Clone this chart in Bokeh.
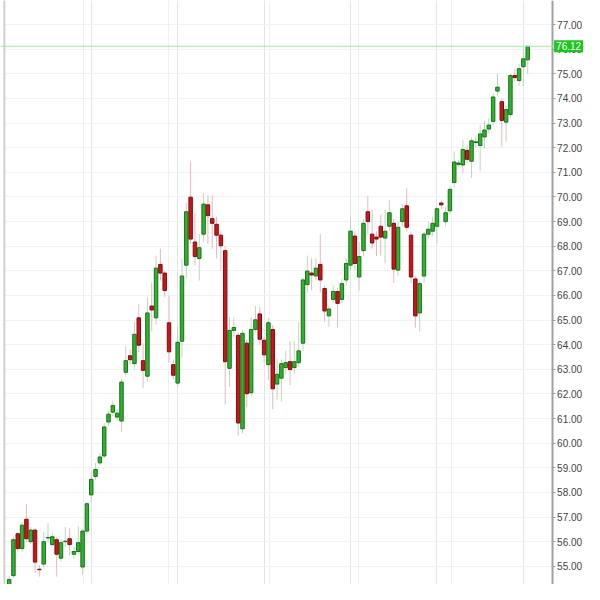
from bokeh.plotting import figure
from bokeh.models import (Span, Label, FixedTicker, SingleIntervalTicker, Range1d,
                          NumeralTickFormatter, ColumnDataSource, Grid, LinearAxis,
                          BoxAnnotation)
from bokeh.embed import file_html
from bokeh.resources import INLINE

opens = [54.10, 54.62, 56.32, 55.72, 56.91, 56.00, 56.47, 54.88, 55.09, 56.15,
         55.88, 56.08, 55.33, 56.00, 56.12, 55.49, 55.60, 54.97, 56.43, 57.90,
         58.65, 59.20, 59.48, 60.86, 61.26, 61.06, 60.90, 62.88, 63.55, 63.23,
         65.09, 63.35, 62.72, 65.57, 65.09, 67.26, 66.91, 64.89, 63.19, 62.44,
         64.14, 67.23, 69.99, 68.17, 67.50, 68.49, 69.68, 69.12, 68.89, 68.45,
         67.82, 63.04, 64.58, 64.38, 60.585, 64.06, 62.05, 64.62, 65.25, 64.18,
         63.19, 64.62, 62.40, 62.64, 63.07, 63.31, 63.07, 63.27, 64.06, 66.44,
         66.91, 66.79, 67.26, 66.28, 65.17, 65.84, 66.16, 65.84, 66.63, 67.23,
         68.41, 66.75, 67.82, 69.40, 68.49, 68.37, 68.81, 68.33, 68.81, 68.93,
         67.03, 69.00, 69.64, 68.45, 66.67, 65.29, 66.79, 68.49, 68.61, 68.81,
         69.755, 69.00, 69.44, 70.585, 71.32, 71.30, 71.89, 71.45, 72.21, 72.09,
         72.44, 72.76, 73.07, 74.30, 73.87, 73.04, 73.35, 74.93, 74.73, 75.29,
         75.57]
highs = [54.60, 56.20, 56.40, 56.80, 57.54, 56.60, 56.55, 55.05, 56.40, 56.75,
         56.35, 56.20, 56.10, 56.59, 56.55, 55.80, 56.63, 56.50, 57.60, 58.80,
         59.20, 59.60, 60.80, 61.30, 61.70, 61.40, 62.60, 63.94, 63.80, 64.93,
         65.64, 64.06, 65.92, 66.51, 67.62, 67.90, 67.00, 66.00, 63.40, 64.73,
         67.50, 69.75, 71.45, 69.36, 68.49, 70.15, 70.07, 70.07, 69.20, 68.60,
         68.00, 65.13, 65.13, 64.50, 64.60, 64.20, 65.13, 65.57, 65.53, 64.30,
         65.09, 64.80, 63.43, 63.40, 63.75, 64.14, 64.14, 64.93, 66.70, 67.62,
         67.50, 67.50, 68.49, 66.40, 65.60, 66.40, 66.30, 66.70, 67.50, 69.20,
         68.60, 68.17, 69.10, 70.03, 69.48, 68.60, 69.28, 69.48, 69.87, 69.10,
         69.00, 69.70, 70.35, 68.60, 66.80, 66.60, 68.60, 69.00, 69.20, 69.60,
         69.85, 69.60, 70.45, 71.85, 71.50, 72.32, 72.10, 72.40, 72.50, 72.92,
         73.10, 73.20, 74.20, 75.01, 74.00, 73.70, 75.00, 75.21, 75.40, 76.08,
         76.12]
lows = [54.00, 54.54, 55.60, 55.60, 55.96, 55.90, 54.73, 54.58, 54.95, 55.96,
        55.80, 54.58, 55.20, 55.80, 55.45, 55.30, 55.50, 54.66, 56.30, 57.60,
        58.50, 59.10, 59.40, 60.70, 61.10, 60.90, 60.47, 62.70, 63.20, 63.00,
        63.70, 62.24, 62.50, 64.54, 64.81, 66.60, 65.92, 63.27, 62.60, 62.30,
        63.47, 66.70, 68.10, 67.23, 66.60, 68.17, 68.10, 67.90, 67.50, 66.99,
        61.57, 62.28, 64.30, 60.31, 60.40, 61.45, 61.90, 64.50, 64.00, 63.27,
        62.56, 61.38, 61.77, 61.69, 62.80, 62.36, 62.80, 63.10, 63.75, 66.12,
        66.20, 66.60, 66.12, 64.93, 64.73, 65.70, 64.69, 65.70, 66.40, 67.00,
        67.03, 66.20, 67.60, 68.49, 67.90, 67.60, 67.62, 67.30, 68.60, 66.51,
        66.80, 68.80, 68.60, 66.50, 64.69, 64.54, 66.51, 68.30, 68.40, 68.10,
        69.50, 68.80, 69.30, 70.39, 71.20, 70.98, 71.40, 70.78, 72.00, 71.06,
        71.97, 72.60, 72.90, 74.10, 72.05, 72.25, 73.20, 74.70, 74.50, 74.50,
        75.00]
closes = [54.46, 56.08, 55.72, 56.67, 56.12, 56.47, 55.17, 54.86, 56.00, 56.17,
          56.20, 55.49, 55.96, 56.02, 55.88, 55.60, 55.96, 56.43, 57.54, 58.53,
          58.93, 59.44, 60.66, 61.18, 61.53, 61.22, 62.48, 63.35, 63.39, 64.42,
          63.98, 62.96, 65.29, 65.41, 67.11, 66.91, 66.20, 63.71, 62.76, 64.10,
          66.79, 69.40, 68.29, 67.58, 67.94, 69.71, 69.24, 68.93, 68.45, 68.02,
          63.31, 64.58, 64.70, 60.82, 64.46, 62.01, 64.62, 65.01, 64.22, 63.59,
          64.89, 62.21, 62.80, 63.23, 63.27, 62.99, 63.31, 63.75, 66.63, 66.99,
          66.83, 67.11, 66.63, 65.37, 65.45, 66.16, 65.68, 66.48, 67.30, 68.61,
          67.30, 67.58, 68.93, 69.00, 68.13, 68.29, 68.37, 68.61, 69.36, 67.07,
          68.77, 69.52, 68.77, 66.75, 65.17, 66.48, 68.49, 68.69, 68.93, 69.52,
          69.68, 69.36, 70.31, 71.42, 71.38, 71.93, 71.53, 72.28, 72.24, 72.56,
          72.72, 72.92, 74.06, 74.46, 73.11, 73.55, 74.93, 74.85, 75.21, 75.61,
          76.12]
month_breaks = [18.15, 37.97, 61.17, 81.89, 103.28]

X_START, X_BORDER, X_AXIS, X_END = -0.995, -0.095, 126.64, 134.14
Y_START, Y_END = 54.26, 77.98

idx = list(range(1, len(opens) + 1))
up = [c >= o for o, c in zip(opens, closes)]

src = ColumnDataSource(dict(
    x=idx,
    top=[max(o, c) for o, c in zip(opens, closes)],
    bottom=[min(o, c) for o, c in zip(opens, closes)],
    high=highs,
    low=lows,
    fill=["#2db32d" if u else "#c9161c" for u in up],
    edge=["#1c6f1c" if u else "#7c0d10" for u in up],
    wick=["#bcd8bc" if u else "#e6b9b9" for u in up],
))

p = figure(width=584, height=584, output_backend="svg", toolbar_location=None,
           x_range=Range1d(X_START, X_END), y_range=Range1d(Y_START, Y_END),
           x_axis_location=None, y_axis_location=None, min_border=0,
           outline_line_color=None, background_fill_color="white",
           border_fill_color="white")

yax = LinearAxis(fixed_location=X_AXIS)
yax.ticker = SingleIntervalTicker(interval=1, num_minor_ticks=0)
yax.formatter = NumeralTickFormatter(format="0.00")
yax.major_label_text_font = "Liberation Sans"
yax.major_label_text_font_size = "10px"
yax.major_label_text_color = "#444444"
yax.axis_line_color = "#a0a0a0"
yax.axis_line_width = 2
yax.major_tick_line_color = "#a0a0a0"
yax.major_tick_out = 3
yax.major_tick_in = 0
yax.minor_tick_line_color = None
yax.major_label_standoff = 2
p.add_layout(yax, "right")

p.add_layout(Grid(dimension=1, ticker=SingleIntervalTicker(interval=1, num_minor_ticks=0),
                  grid_line_color="#f2f2f2"))
p.add_layout(Grid(dimension=0, ticker=FixedTicker(ticks=month_breaks),
                  grid_line_color="#f0f0f0"))
p.add_layout(BoxAnnotation(left=X_AXIS, fill_color="white", fill_alpha=1.0,
                           line_color=None, level="underlay"))
p.add_layout(BoxAnnotation(right=X_BORDER, fill_color="white", fill_alpha=1.0,
                           line_color=None, level="underlay"))

p.add_layout(Span(location=X_BORDER, dimension="height",
                  line_color="#d0d0d0", line_width=2))
p.add_layout(Span(location=closes[-1], dimension="width",
                  line_color="#a6e6a6", line_width=1))

p.segment(x0="x", y0="low", x1="x", y1="high", source=src, line_color="wick",
          line_width=1)
p.vbar(x="x", width=0.8, top="top", bottom="bottom", source=src,
       fill_color="fill", line_color="edge", line_width=1)

p.add_layout(Label(x=X_AXIS, y=closes[-1], text=f"{closes[-1]:.2f}",
                   x_offset=2, text_baseline="middle",
                   text_font="Liberation Sans", text_font_size="10px",
                   text_color="white", background_fill_color="#1fc51f",
                   padding=2))

open("out.html", "w").write(file_html(p, INLINE))
